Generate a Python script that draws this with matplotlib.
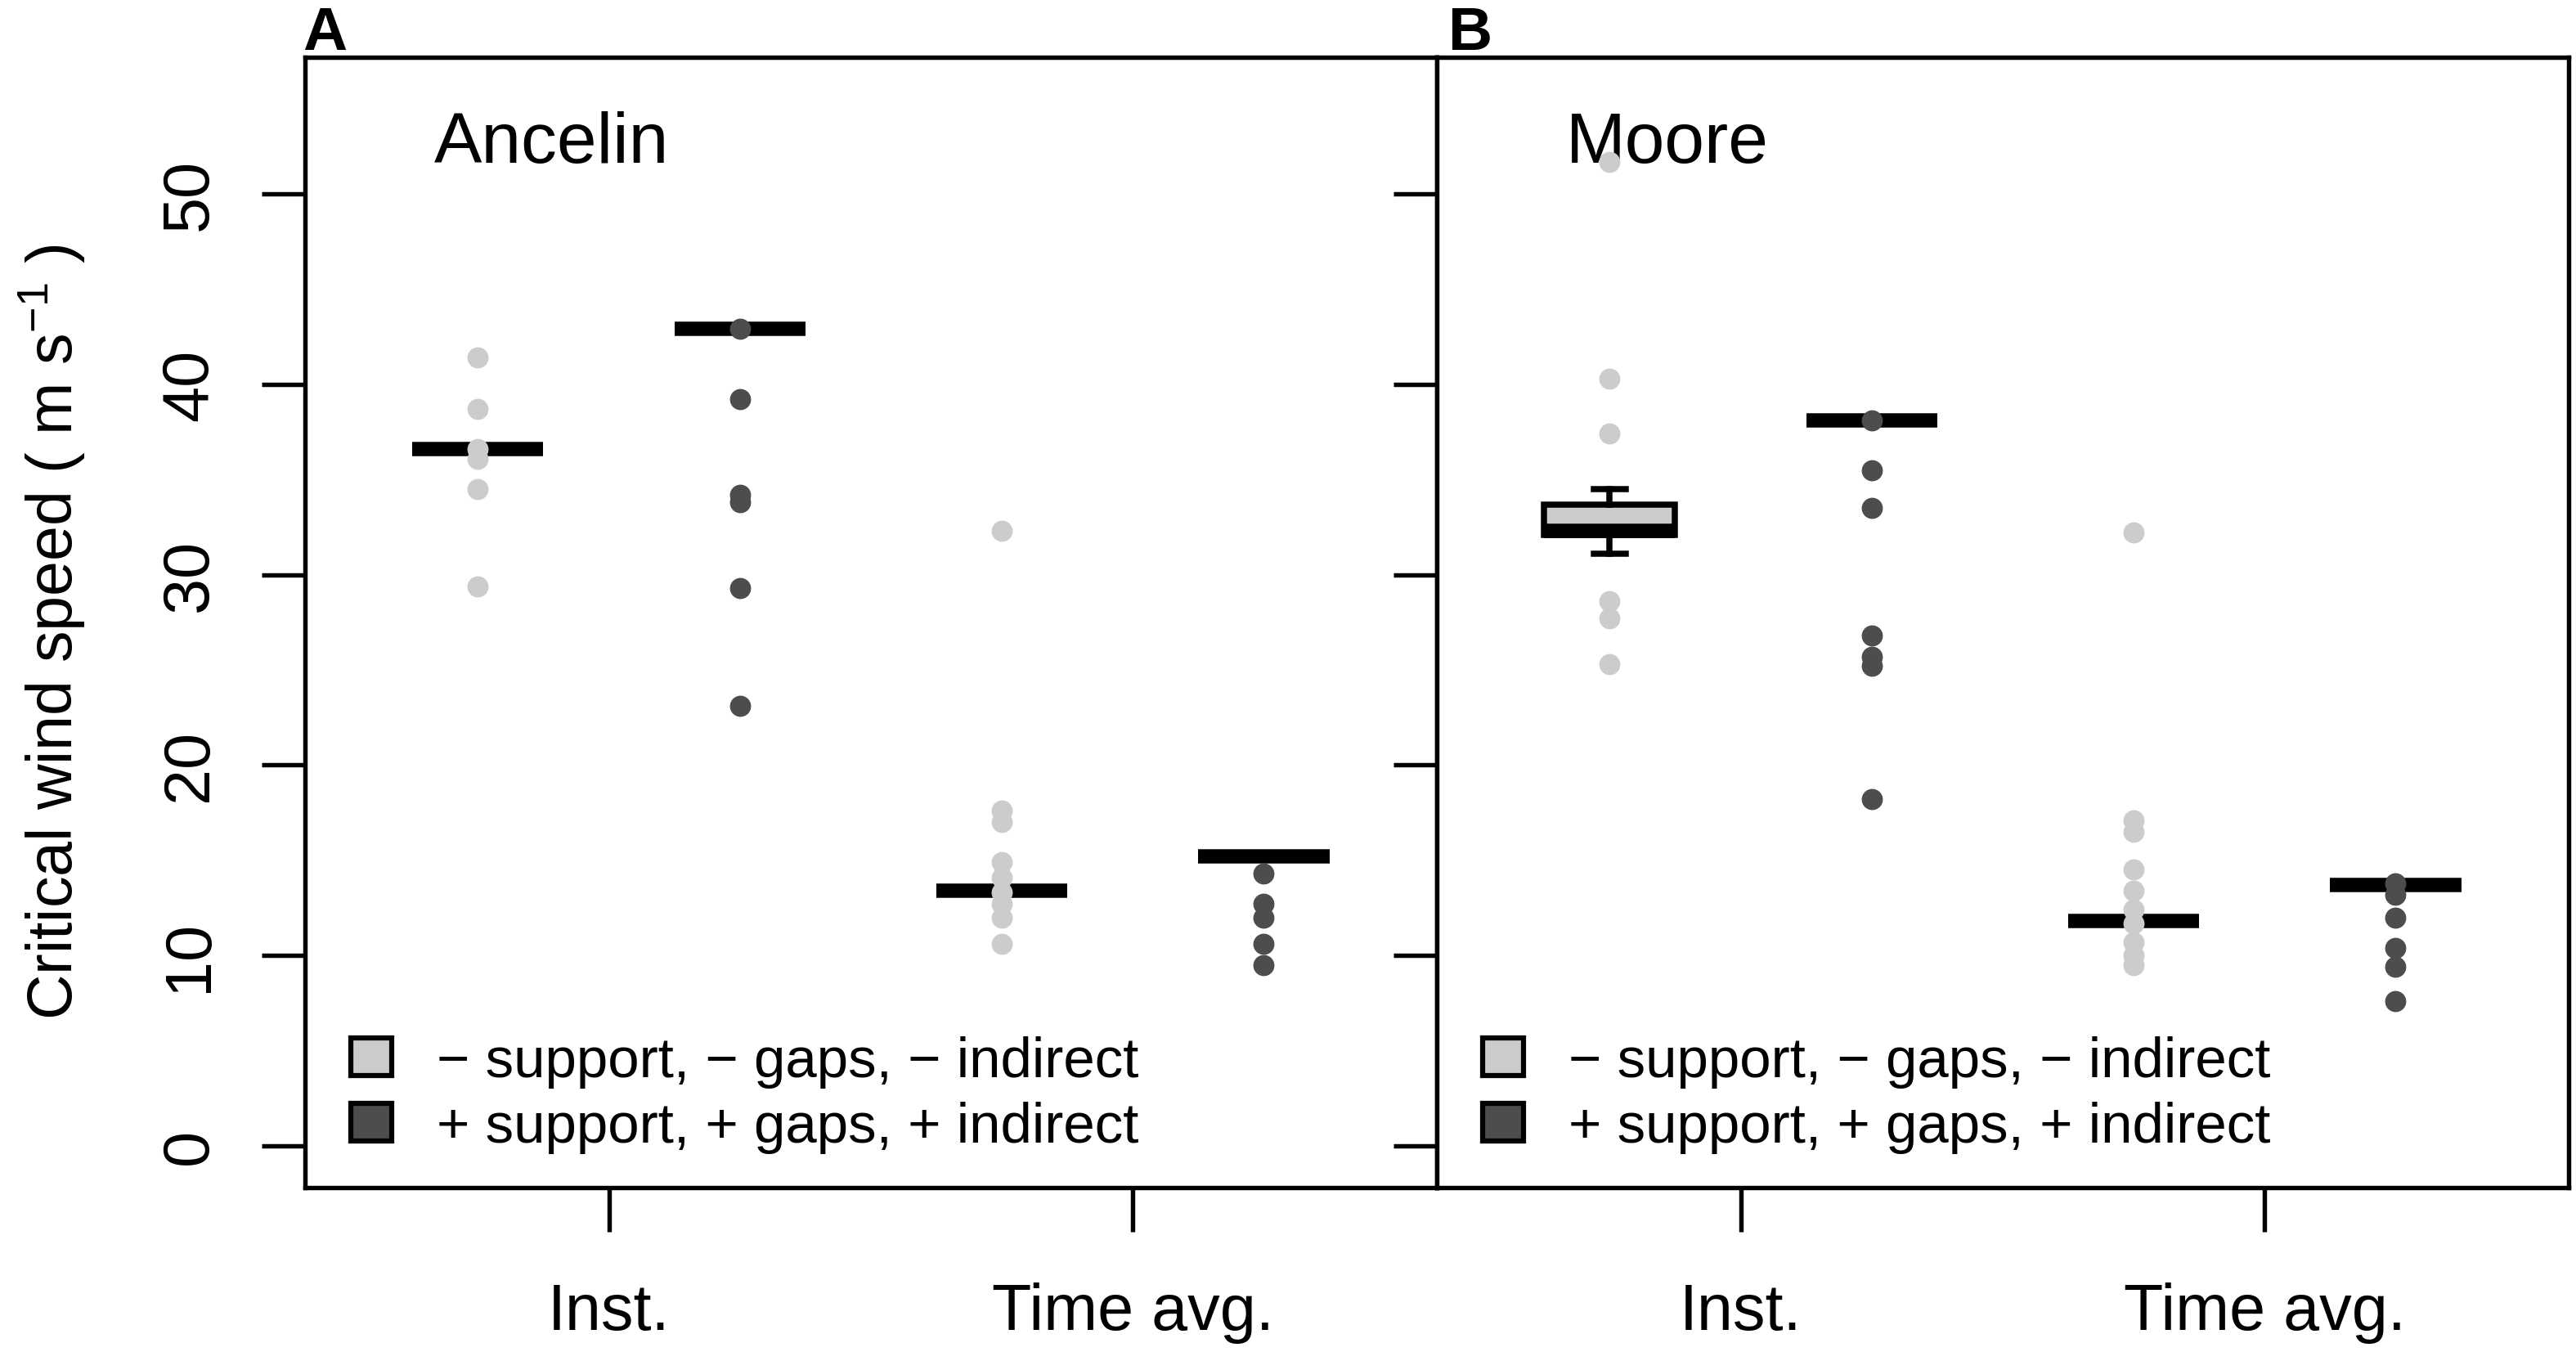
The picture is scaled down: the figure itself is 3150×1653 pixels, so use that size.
import matplotlib
matplotlib.use('Agg')
import matplotlib.pyplot as plt
from matplotlib.patches import Patch

plt.rcParams['font.family'] = ['Liberation Sans', 'DejaVu Sans']
plt.rcParams['mathtext.fontset'] = 'custom'
plt.rcParams['mathtext.rm'] = 'Liberation Sans'
plt.rcParams['mathtext.it'] = 'Liberation Sans:italic'

# x categories and legend
categories = ['Inst.', 'Time avg.']
legend_labels = ['\u2212 support, \u2212 gaps, \u2212 indirect',
                 '+ support, + gaps, + indirect']
light = '#cccccc'
dark = '#4d4d4d'

# critical wind speeds (m/s)
ancelin_inst_minus = [41.4, 38.7, 36.6, 36.1, 34.5, 29.4]
ancelin_inst_plus = [42.9, 39.2, 34.2, 33.8, 29.3, 23.1]
ancelin_avg_minus = [32.3, 17.6, 17.0, 14.9, 14.1, 13.3, 12.7, 12.0, 10.6]
ancelin_avg_plus = [14.3, 12.7, 12.0, 10.6, 9.5]

moore_inst_minus = [51.7, 40.3, 37.4, 28.6, 27.7, 25.3]
moore_inst_plus = [38.1, 35.5, 33.5, 26.8, 25.7, 25.2, 18.2]
moore_avg_minus = [32.2, 17.1, 16.5, 14.5, 13.4, 12.4, 11.7, 10.7, 10.0, 9.5]
moore_avg_plus = [13.8, 13.2, 12.0, 10.4, 9.4, 7.6]

# box statistics: median, lower/upper quartile, lower/upper whisker
ancelin_med = [36.6, 42.9, 13.4, 15.2]
ancelin_q1 = [36.6, 42.9, 13.4, 15.2]
ancelin_q3 = [36.6, 42.9, 13.4, 15.2]
ancelin_wlo = [36.6, 42.9, 13.4, 15.2]
ancelin_whi = [36.6, 42.9, 13.4, 15.2]

moore_med = [32.3, 38.1, 11.8, 13.7]
moore_q1 = [32.1, 38.1, 11.8, 13.7]
moore_q3 = [33.7, 38.1, 11.8, 13.7]
moore_wlo = [31.1, 38.1, 11.8, 13.7]
moore_whi = [34.5, 38.1, 11.8, 13.7]

panels = [
    ('A', 'Ancelin',
     [ancelin_inst_minus, ancelin_inst_plus, ancelin_avg_minus, ancelin_avg_plus],
     ancelin_med, ancelin_q1, ancelin_q3, ancelin_wlo, ancelin_whi),
    ('B', 'Moore',
     [moore_inst_minus, moore_inst_plus, moore_avg_minus, moore_avg_plus],
     moore_med, moore_q1, moore_q3, moore_wlo, moore_whi),
]

fig = plt.figure(figsize=(10.5, 5.513), dpi=300)
left, right, bottom, top = 0.1184, 0.9971, 0.1215, 0.9574
w = (right - left) / 2
axes = [fig.add_axes([left, bottom, w, top - bottom]),
        fig.add_axes([left + w, bottom, w, top - bottom])]

positions = [1, 2, 3, 4]
colors = [light, dark, light, dark]

for i, (ax, (letter, name, groups, med, q1, q3, wlo, whi)) in enumerate(zip(axes, panels)):
    stats = [dict(med=med[k], q1=q1[k], q3=q3[k], whislo=wlo[k], whishi=whi[k])
             for k in range(4)]
    bp = ax.bxp(stats, positions=positions, widths=0.5, patch_artist=True,
                showfliers=False, capwidths=0.12,
                boxprops=dict(edgecolor='black', linewidth=1.8),
                medianprops=dict(color='black', linewidth=4.2, solid_capstyle='butt'),
                whiskerprops=dict(color='black', linewidth=1.8),
                capprops=dict(color='black', linewidth=1.8))
    for patch, c in zip(bp['boxes'], colors):
        patch.set_facecolor(c)

    for pos, vals, c in zip(positions, groups, colors):
        ax.plot([pos] * len(vals), vals, 'o', color=c, markersize=6.2,
                markeredgewidth=0, zorder=5)

    ax.set_xlim(0.34, 4.66)
    ax.set_ylim(-2.2, 57.2)
    ax.set_xticks([1.5, 3.5])
    ax.set_xticklabels(categories)
    ax.set_yticks([0, 10, 20, 30, 40, 50])
    ax.tick_params(axis='x', length=13, width=1.3, pad=14.5, labelsize=19)
    ax.tick_params(axis='y', length=12.7, width=1.3, pad=12, labelsize=19)
    for lab in ax.get_yticklabels():
        lab.set_rotation(90)
        lab.set_va('center')
    if i == 1:
        ax.tick_params(axis='y', labelleft=False)
    for sp in ax.spines.values():
        sp.set_linewidth(1.3)

    ax.text(0.114, 0.907, name, transform=ax.transAxes, fontsize=21,
            ha='left', va='baseline')

    handles = [Patch(facecolor=light, edgecolor='black', linewidth=1.5),
               Patch(facecolor=dark, edgecolor='black', linewidth=1.5)]
    ax.legend(handles, legend_labels, loc='lower left',
              bbox_to_anchor=(0.0405, 0.03), frameon=False, fontsize=16.6,
              borderpad=0, borderaxespad=0, handlelength=0.72,
              handleheight=0.64, handletextpad=0.8, labelspacing=0.24)

fig.text(370 / 3150, 1 - 61 / 1654, 'A', fontsize=18, fontweight='bold',
         ha='left', va='baseline')
fig.text(1771 / 3150, 1 - 61 / 1654, 'B', fontsize=18, fontweight='bold',
         ha='left', va='baseline')

fig.text(64 / 3150, 1 - 773 / 1654, 'Critical wind speed ( m s$^{-1}$ )',
         rotation=90, fontsize=18.5, ha='center', va='center')

fig.savefig('out.png', dpi=300)
